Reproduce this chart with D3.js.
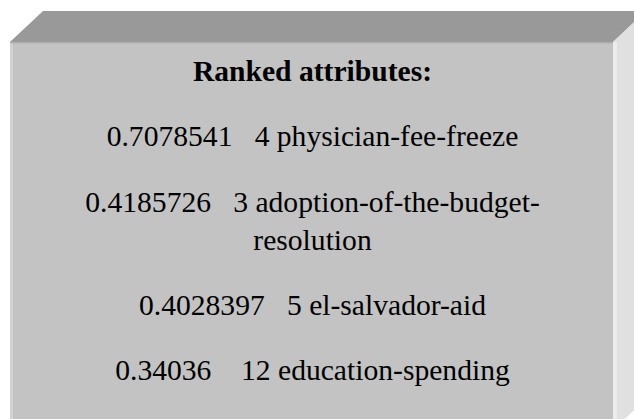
<!DOCTYPE html>
<html>
<head>
<meta charset="utf-8">
<script src="https://cdn.jsdelivr.net/npm/d3@7"></script>
<style>
  html, body { margin: 0; padding: 0; background: #fff; }
  svg { display: block; }
</style>
</head>
<body>
<div class="canvas"></div>
<script>
// Ranked attributes (score, attribute index, attribute name)
const title = 'Ranked attributes:'
const scores = ['0.7078541', '0.4185726', '0.4028397', '0.34036']
const ranks = ['4', '3', '5', '12']
const names = ['physician-fee-freeze', 'adoption-of-the-budget-resolution', 'el-salvador-aid', 'education-spending']

const width = 634
const height = 419

const svg = d3.select('.canvas')
  .append('svg')
    .attr('width', width)
    .attr('height', height)

// 3D box geometry
const front = {x0: 10, y0: 42, x1: 613, y1: 430}
const depth = {dx: 33, dy: 31}

// top face
svg.append('polygon')
  .attr('points', [
    [front.x0, front.y0], [front.x0 + depth.dx, front.y0 - depth.dy],
    [front.x1 + depth.dx, front.y0 - depth.dy], [front.x1, front.y0]
  ].join(' '))
  .attr('fill', '#999999')

// side face
svg.append('polygon')
  .attr('points', [
    [front.x1, front.y0], [front.x1 + depth.dx, front.y0 - depth.dy],
    [front.x1 + depth.dx, front.y1 - depth.dy], [front.x1, front.y1]
  ].join(' '))
  .attr('fill', '#e0e0e0')

// front face
svg.append('rect')
  .attr('x', front.x0)
  .attr('y', front.y0)
  .attr('width', front.x1 - front.x0)
  .attr('height', front.y1 - front.y0)
  .attr('fill', '#c3c3c3')

// light edges on the front face
svg.append('rect')
  .attr('x', front.x0).attr('y', front.y0)
  .attr('width', 3).attr('height', front.y1 - front.y0)
  .attr('fill', '#d2d2d2')
svg.append('rect')
  .attr('x', front.x1).attr('y', front.y0)
  .attr('width', 4).attr('height', front.y1 - front.y0)
  .attr('fill', '#ececec')
svg.append('rect')
  .attr('x', front.x0).attr('y', front.y0)
  .attr('width', front.x1 - front.x0).attr('height', 1.5)
  .attr('fill', '#b0b0b0')

// Text
const cx = (front.x0 + front.x1) / 2 + 1
const fontFamily = '"Liberation Serif", "Times New Roman", Times, serif'
const fontSize = 29.6
const maxWidth = 500
const lineHeight = 38
const paraGap = 65.3

svg.append('text')
  .attr('x', cx)
  .attr('y', 81)
  .attr('text-anchor', 'middle')
  .attr('font-family', fontFamily)
  .attr('font-size', fontSize)
  .attr('font-weight', 'bold')
  .attr('fill', '#000')
  .text(title)

const nbsp = '\u00a0'
const rows = scores.map((s, i) => {
  const pad = 3 + (9 - s.length) - (ranks[i].length - 1)
  return s + nbsp.repeat(pad) + ranks[i] + ' ' + names[i]
})

// measure helper
const probe = svg.append('text')
  .attr('font-family', fontFamily)
  .attr('font-size', fontSize)
  .attr('visibility', 'hidden')
const measure = str => { probe.text(str); return probe.node().getComputedTextLength() }

// break a row into lines, breaking after spaces or hyphens
const wrap = str => {
  const pieces = str.match(/[^ \-]+[ \-]?/g)
  const lines = []
  let cur = ''
  pieces.forEach(p => {
    const next = cur + p
    if (cur && measure(next.trimEnd()) > maxWidth) {
      lines.push(cur.trimEnd())
      cur = p
    } else {
      cur = next
    }
  })
  if (cur) lines.push(cur.trimEnd())
  return lines
}

let y = 81
rows.forEach(row => {
  const lines = wrap(row)
  y += paraGap
  lines.forEach((line, j) => {
    if (j > 0) y += lineHeight
    svg.append('text')
      .attr('x', cx)
      .attr('y', y)
      .attr('text-anchor', 'middle')
      .attr('font-family', fontFamily)
      .attr('font-size', fontSize)
      .attr('fill', '#000')
      .text(line)
  })
})
probe.remove()
</script>
</body>
</html>
